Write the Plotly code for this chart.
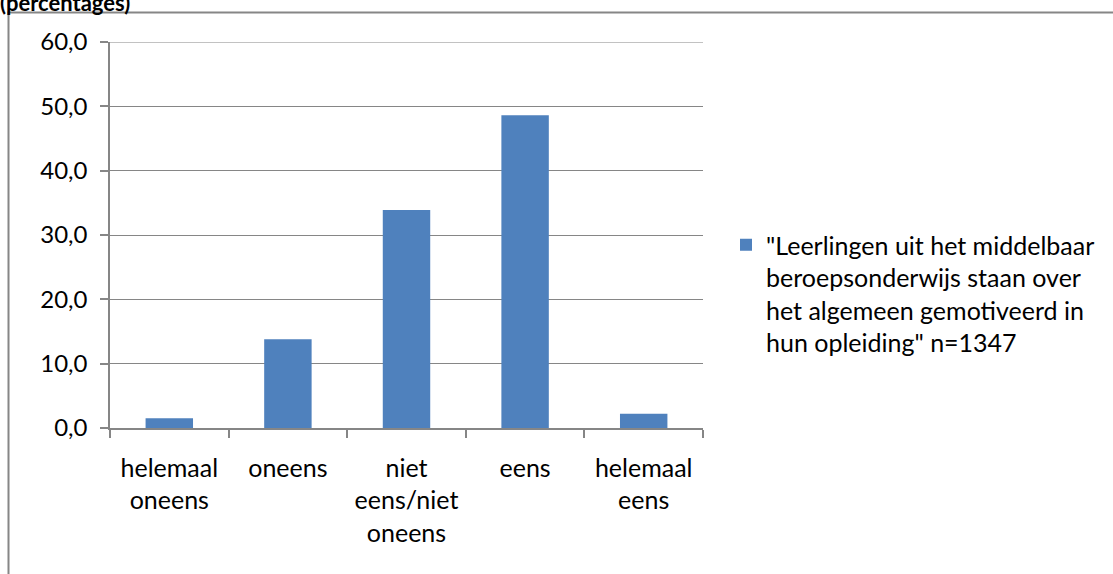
import plotly.graph_objects as go

categories = ["helemaal<br>oneens", "oneens", "niet<br>eens/niet<br>oneens", "eens", "helemaal<br>eens"]
values = [1.5, 13.8, 33.9, 48.6, 2.2]
tick_vals = [0, 10, 20, 30, 40, 50, 60]
tick_text = ["0,0", "10,0", "20,0", "30,0", "40,0", "50,0", "60,0"]
series_name = ('"Leerlingen uit het middelbaar<br>beroepsonderwijs staan over<br>'
               'het algemeen gemotiveerd in<br>hun opleiding" n=1347')
title_text = "(percentages)"

W, H = 1113, 574
L, R, T, B = 110, 410, 42, 146
pw, ph = W - L - R, H - T - B

def px_x(px):
    return (px - L) / pw

def px_y(py):
    return (H - B - py) / ph

FONT = "Lato"
FS = 25
GRAY = "#868686"

fig = go.Figure()
fig.add_trace(go.Bar(x=categories, y=values, name=series_name,
                     marker=dict(color="#4F81BD", line=dict(width=0)),
                     showlegend=True))

fig.update_layout(
    width=W, height=H,
    margin=dict(l=L, r=R, t=T, b=B, pad=0),
    paper_bgcolor="white", plot_bgcolor="white",
    bargap=0.6,
    font=dict(family=FONT, size=FS, color="#000000"),
    showlegend=True,
    legend=dict(x=px_x(726), y=px_y(222), xanchor="left", yanchor="top",
                valign="top", font=dict(family=FONT, size=FS),
                itemwidth=30, tracegroupgap=0),
    xaxis=dict(type="category", showline=True, linecolor=GRAY, linewidth=1.5,
               ticks="outside", tickson="boundaries", ticklen=8, tickcolor=GRAY,
               tickwidth=1.5, showgrid=False, tickfont=dict(size=FS),
               ticklabelstandoff=17),
    yaxis=dict(range=[0, 60], tickvals=tick_vals, ticktext=tick_text,
               showline=True, linecolor=GRAY, linewidth=1.5, ticks="outside",
               ticklen=8, tickcolor=GRAY, tickwidth=1.5, showgrid=True,
               gridcolor=GRAY, gridwidth=1, zeroline=False,
               tickfont=dict(size=24), ticklabelstandoff=8),
    shapes=[dict(type="rect", xref="paper", yref="paper",
                 x0=px_x(8.5), x1=px_x(1300), y0=px_y(700), y1=px_y(12.5),
                 line=dict(color=GRAY, width=2), fillcolor="rgba(0,0,0,0)",
                 layer="below"),
            dict(type="line", xref="paper", yref="y", x0=0, x1=1,
                 y0=tick_vals[-1], y1=tick_vals[-1],
                 line=dict(color=GRAY, width=1), layer="below")],
    annotations=[dict(text="<b>" + title_text + "</b>", xref="paper", yref="paper",
                      x=px_x(-2), y=px_y(18), xanchor="left", yanchor="bottom",
                      showarrow=False, font=dict(family=FONT, size=22))],
)

fig.write_html("out.html", config={"displayModeBar": False},
               post_script="document.body.style.margin='0';")
